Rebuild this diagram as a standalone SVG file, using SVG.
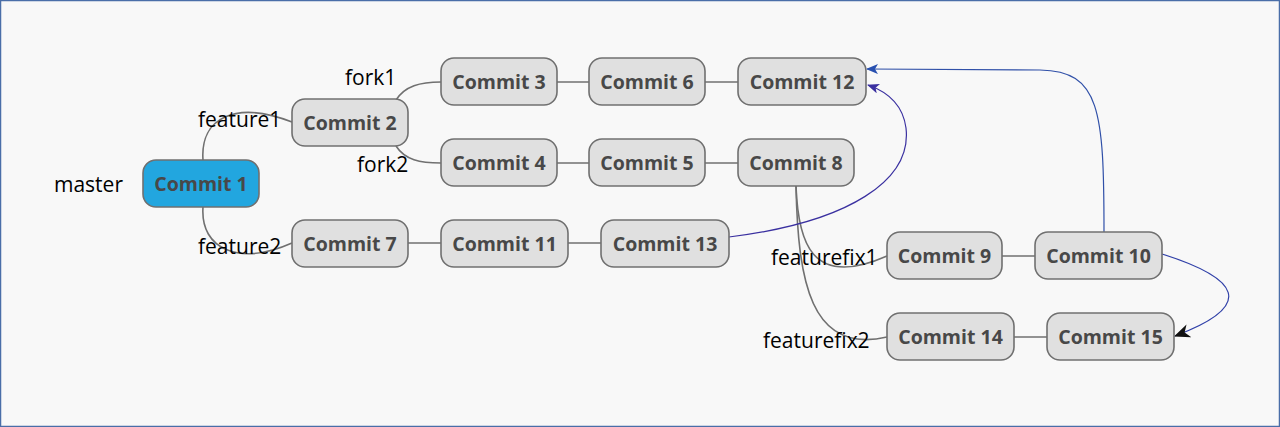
<svg xmlns="http://www.w3.org/2000/svg" width="1280" height="427" viewBox="0 0 1280 427">
<defs>
<style>
.node rect{fill:#e0e0e0;stroke:#707070;stroke-width:1.6}
.node text{font-family:"Open Sans","Liberation Sans",sans-serif;font-weight:bold;font-size:19.5px;fill:#484848;text-anchor:middle}
.root rect{fill:#22a6df}
.lbl{font-family:"Open Sans","Liberation Sans",sans-serif;font-size:21px;fill:#000}
.edge{fill:none;stroke:#707070;stroke-width:1.6}
.link{fill:none;stroke-width:1.2}
</style>
<marker id="arrBlue" viewBox="0 0 12 10" refX="11" refY="5" markerWidth="12" markerHeight="10" markerUnits="userSpaceOnUse" orient="auto">
<path d="M0,0 L12,5 L0,10 L3,5 Z" fill="#2850b0"/>
</marker>
<marker id="arrPurple" viewBox="0 0 12 10" refX="11" refY="5" markerWidth="12" markerHeight="10" markerUnits="userSpaceOnUse" orient="auto">
<path d="M0,0 L12,5 L0,10 L3,5 Z" fill="#3a30a0"/>
</marker>
<marker id="arrDark" viewBox="0 0 14 12" refX="13" refY="6" markerWidth="16" markerHeight="14" markerUnits="userSpaceOnUse" orient="auto">
<path d="M0,0 L14,6 L0,12 L4,6 Z" fill="#111"/>
</marker>
</defs>
<rect x="0.5" y="0.5" width="1279" height="426" fill="#f8f8f8" stroke="#4a6ea8" stroke-width="1.5"/>

<g id="connectors">
<path class="edge" d="M203,160 C200,118 235,100 292,122"/>
<path class="edge" d="M203,207 C200,250 240,266 292,243"/>
<path class="edge" d="M396,100 C405,86 420,82 441,82"/>
<path class="edge" d="M396,146 C405,160 420,163 441,163"/>
<path class="edge" d="M557,82 H589 M705,82 H738 M557,163 H589 M705,163 H738 M408,243 H441 M568,243 H601 M1002,256 H1035 M1014,337 H1047"/>
<path class="edge" d="M796,186 C798,240 810,290 887,256"/>
<path class="edge" d="M796,186 C798,280 810,355 887,337"/>
<path class="link" stroke="#3a30a0" d="M729,237 C850,222 912,180 906,128 C903,105 888,92 868,85" marker-end="url(#arrPurple)"/>
<path class="link" stroke="#3050a8" d="M1104,232 C1104,110 1100,71 1040,70 L867,69" marker-end="url(#arrBlue)"/>
<path class="link" stroke="#3040a8" d="M1162,254 C1238,278 1258,305 1175,336" marker-end="url(#arrDark)"/>
</g>

<g id="labels">
<text class="lbl" x="54" y="192">master</text>
<text class="lbl" x="198" y="127">feature1</text>
<text class="lbl" x="198" y="254">feature2</text>
<text class="lbl" x="345" y="85">fork1</text>
<text class="lbl" x="357" y="172">fork2</text>
<text class="lbl" x="771" y="265">featurefix1</text>
<text class="lbl" x="763" y="348">featurefix2</text>
</g>

<g id="commit1" class="node root"><rect x="143" y="160" width="116" height="47" rx="13"/><text x="201" y="190.5">Commit 1</text></g>
<g id="commit2" class="node"><rect x="292" y="99" width="116" height="47" rx="13"/><text x="350" y="129.5">Commit 2</text></g>
<g id="commit3" class="node"><rect x="441" y="58" width="116" height="47" rx="13"/><text x="499" y="88.5">Commit 3</text></g>
<g id="commit6" class="node"><rect x="589" y="58" width="116" height="47" rx="13"/><text x="647" y="88.5">Commit 6</text></g>
<g id="commit12" class="node"><rect x="738" y="58" width="128" height="47" rx="13"/><text x="802" y="88.5">Commit 12</text></g>
<g id="commit4" class="node"><rect x="441" y="139" width="116" height="47" rx="13"/><text x="499" y="169.5">Commit 4</text></g>
<g id="commit5" class="node"><rect x="589" y="139" width="116" height="47" rx="13"/><text x="647" y="169.5">Commit 5</text></g>
<g id="commit8" class="node"><rect x="738" y="139" width="116" height="47" rx="13"/><text x="796" y="169.5">Commit 8</text></g>
<g id="commit7" class="node"><rect x="292" y="220" width="116" height="47" rx="13"/><text x="350" y="250.5">Commit 7</text></g>
<g id="commit11" class="node"><rect x="441" y="220" width="127" height="47" rx="13"/><text x="504.5" y="250.5">Commit 11</text></g>
<g id="commit13" class="node"><rect x="601" y="220" width="128" height="47" rx="13"/><text x="665" y="250.5">Commit 13</text></g>
<g id="commit9" class="node"><rect x="887" y="232" width="115" height="47" rx="13"/><text x="944.5" y="262.5">Commit 9</text></g>
<g id="commit10" class="node"><rect x="1035" y="232" width="127" height="47" rx="13"/><text x="1098.5" y="262.5">Commit 10</text></g>
<g id="commit14" class="node"><rect x="887" y="313" width="127" height="47" rx="13"/><text x="950.5" y="343.5">Commit 14</text></g>
<g id="commit15" class="node"><rect x="1047" y="313" width="127" height="47" rx="13"/><text x="1110.5" y="343.5">Commit 15</text></g>
</svg>
